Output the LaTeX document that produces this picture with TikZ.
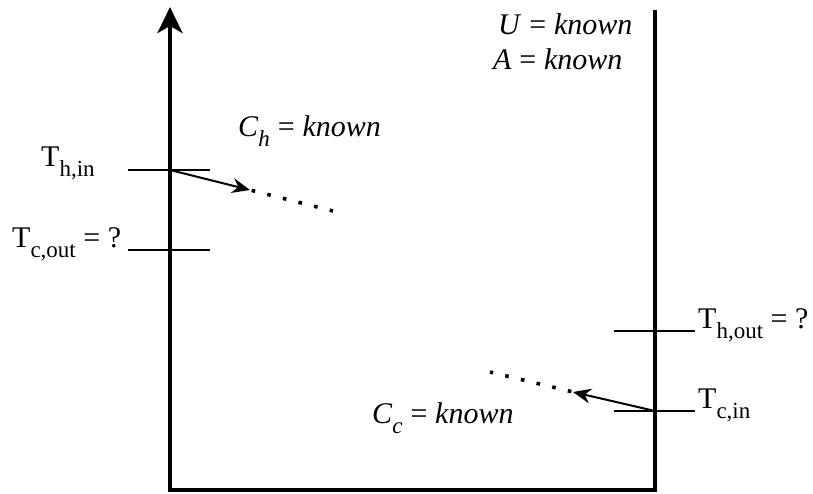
\documentclass[tikz,border=0pt]{standalone}
\usepackage{fontspec}
\setmainfont{Liberation Serif}
\usetikzlibrary{arrows.meta,calc}
\newcommand{\bigtxt}{\fontsize{30}{32}\selectfont}
\newcommand{\subtxt}[1]{\raisebox{-0.34em}{\fontsize{23}{24}\selectfont #1}}
\newcommand{\eqsign}{\hspace{0.26em}=\hspace{0.26em}}
\begin{document}
\begin{tikzpicture}[x=1pt,y=-1pt,
  axisline/.style={line width=4.2pt, line join=miter},
  tickline/.style={line width=2pt},
  flowarrow/.style={line width=2pt, -{Stealth[length=18pt,width=15pt,inset=6pt]}},
  dotline/.style={line width=3.6pt, dash pattern=on 3.6pt off 12.5pt},
  lbl/.style={anchor=base west, inner sep=0pt, font=\bigtxt}]
\useasboundingbox (0,0) rectangle (813,493);
% axes
\coordinate (topL) at (170,7);
\coordinate (botL) at (170,490);
\coordinate (botR) at (655,490);
\coordinate (topR) at (655,10);
\draw[axisline, {Stealth[length=26pt,width=25pt,inset=7pt]}-] (topL) -- (botL) -- (botR) -- (topR);
% ticks
\coordinate (t1a) at (128,170); \coordinate (t1b) at (210,170);
\coordinate (t2a) at (128,250); \coordinate (t2b) at (210,250);
\coordinate (t3a) at (614,331); \coordinate (t3b) at (695,331);
\coordinate (t4a) at (614,411); \coordinate (t4b) at (695,411);
\draw[tickline] (t1a) -- (t1b);
\draw[tickline] (t2a) -- (t2b);
\draw[tickline] (t3a) -- (t3b);
\draw[tickline] (t4a) -- (t4b);
% flow arrows
\coordinate (hs) at (170,170);
\coordinate (ht) at (250,190);
\coordinate (he) at (333,211);
\draw[flowarrow] (hs) -- (ht);
\draw[dotline] ($(ht)!0.02!(he)$) -- (he);
\coordinate (cs) at (655,411);
\coordinate (ct) at (573,392);
\coordinate (ce) at (490,372);
\draw[flowarrow] (cs) -- (ct);
\draw[dotline] ($(ct)!0.02!(ce)$) -- (ce);
% labels
\node[lbl] (lThin) at (41,166) {T\subtxt{h,in}};
\node[lbl] (lTcout) at (12,247) {T\subtxt{c,out} = ?};
\node[lbl] (lThout) at (698,328) {T\subtxt{h,out} = ?};
\node[lbl] (lTcin) at (698,408) {T\subtxt{c,in}};
\node[lbl] (lCh) at (238,136) {\textit{C}\subtxt{\textit{h}}\eqsign\textit{known}};
\node[lbl] (lCc) at (372,423) {\textit{C}\subtxt{\textit{c}}\eqsign\textit{known}};
\node[lbl] (lU) at (498,34) {\textit{U}\eqsign\textit{known}};
\node[lbl] (lA) at (493,69) {\textit{A}\eqsign\textit{known}};
\end{tikzpicture}
\end{document}
